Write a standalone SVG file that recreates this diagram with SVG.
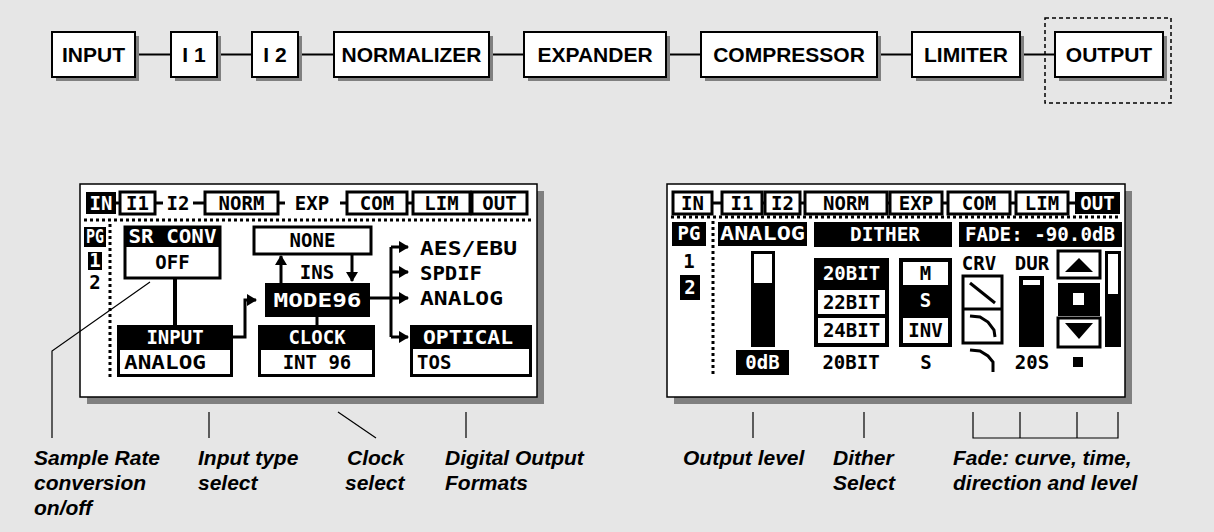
<svg xmlns="http://www.w3.org/2000/svg" width="1214" height="532" viewBox="0 0 1214 532">
<defs>
<style>
.bg{fill:#e6e6e6}
.sh{fill:#808080}
.box{fill:#fff;stroke:#000;stroke-width:2}
.ct{font-family:"Liberation Sans",Arial,sans-serif;font-weight:bold;font-size:21px;text-anchor:middle;fill:#000}
.conn{stroke:#000;stroke-width:2;fill:none}
.lcd{fill:#fff;stroke:#000;stroke-width:1.5}
.px{font-family:"DejaVu Sans Mono","Liberation Mono",monospace;font-weight:bold;font-size:19px;fill:#000}
.c{text-anchor:middle}
.w{fill:#fff}
.k{fill:#000}
.ob{fill:#fff;stroke:#000;stroke-width:3}
.ln{stroke:#000;stroke-width:3;fill:none}
.dot{stroke:#000;stroke-width:3;stroke-dasharray:3 3;fill:none}
.lbl{font-family:"Liberation Sans",Arial,sans-serif;font-weight:bold;font-style:italic;font-size:21px;fill:#000}
.ll{stroke:#000;stroke-width:1.2;fill:none}
</style>
<marker id="ah" markerUnits="userSpaceOnUse" markerWidth="10" markerHeight="12" refX="9" refY="6" orient="auto">
<path d="M0,0 L10,6 L0,12 z" fill="#000"/>
</marker>
</defs>
<rect class="bg" x="0" y="0" width="1214" height="532"/>

<g id="connectors">
<path class="conn" d="M135,54.5H171 M217,54.5H252 M298,54.5H334 M489,54.5H524 M666,54.5H701 M877,54.5H912 M1020,54.5H1055"/>
<rect x="1045" y="18" width="126" height="85" fill="none" stroke="#000" stroke-width="1.5" stroke-dasharray="4 3"/>
</g>

<g id="n-input"><rect class="sh" x="56" y="36" width="83" height="45"/><rect class="box" x="52" y="32" width="83" height="45"/><text class="ct" x="93.5" y="62">INPUT</text></g>
<g id="n-i1"><rect class="sh" x="175" y="36" width="46" height="45"/><rect class="box" x="171" y="32" width="46" height="45"/><text class="ct" x="194" y="62">I 1</text></g>
<g id="n-i2"><rect class="sh" x="256" y="36" width="46" height="45"/><rect class="box" x="252" y="32" width="46" height="45"/><text class="ct" x="275" y="62">I 2</text></g>
<g id="n-normalizer"><rect class="sh" x="338" y="36" width="155" height="45"/><rect class="box" x="334" y="32" width="155" height="45"/><text class="ct" x="411.5" y="62">NORMALIZER</text></g>
<g id="n-expander"><rect class="sh" x="528" y="36" width="142" height="45"/><rect class="box" x="524" y="32" width="142" height="45"/><text class="ct" x="595" y="62">EXPANDER</text></g>
<g id="n-compressor"><rect class="sh" x="705" y="36" width="176" height="45"/><rect class="box" x="701" y="32" width="176" height="45"/><text class="ct" x="789" y="62">COMPRESSOR</text></g>
<g id="n-limiter"><rect class="sh" x="916" y="36" width="108" height="45"/><rect class="box" x="912" y="32" width="108" height="45"/><text class="ct" x="966" y="62">LIMITER</text></g>
<g id="n-output"><rect class="sh" x="1059" y="36" width="108" height="45"/><rect class="box" x="1055" y="32" width="108" height="45"/><text class="ct" x="1109" y="62">OUTPUT</text></g>

<g id="lcd-left">
<rect class="sh" x="87" y="191" width="457" height="213"/>
<rect class="lcd" x="80" y="184" width="457" height="213"/>
<path class="ln" d="M116,203H120 M155,203H163 M193,203H205 M278,203H285 M340,203H347 M407,203H413 M470,203H472"/>
<rect class="k" x="86" y="192" width="30" height="22"/><text class="px c w" x="101" y="210">IN</text>
<rect class="ob" x="120" y="192" width="35" height="22"/><text class="px c" x="137.5" y="210">I1</text>
<text class="px c" x="178" y="210">I2</text>
<rect class="ob" x="205" y="192" width="73" height="22"/><text class="px c" x="241.5" y="210">NORM</text>
<text class="px c" x="312" y="210">EXP</text>
<rect class="ob" x="347" y="192" width="60" height="22"/><text class="px c" x="377" y="210">COM</text>
<rect class="ob" x="413" y="192" width="57" height="22"/><text class="px c" x="441.5" y="210">LIM</text>
<rect class="ob" x="472" y="192" width="55" height="22"/><text class="px c" x="499.5" y="210">OUT</text>
<path class="dot" d="M84,220H533 M110,224V378"/>
<rect class="k" x="84" y="227" width="22" height="20"/><text class="px c w" x="95" y="243" textLength="18" lengthAdjust="spacingAndGlyphs">PG</text>
<rect class="k" x="88" y="252" width="14" height="18"/><text class="px c w" x="95" y="267">1</text>
<text class="px c" x="95" y="289">2</text>
<rect class="ob" x="125" y="227" width="95" height="51"/><rect class="k" x="125" y="227" width="95" height="20"/>
<text class="px c w" x="172.5" y="243" textLength="88" lengthAdjust="spacingAndGlyphs">SR CONV</text>
<text class="px c" x="172.5" y="269">OFF</text>
<path d="M175,278V325" stroke="#000" stroke-width="4"/>
<rect class="k" x="117" y="325" width="116" height="52"/><rect class="w" x="120" y="350" width="110" height="24"/>
<text class="px c w" x="175" y="344">INPUT</text><text class="px" x="124" y="369" textLength="82" lengthAdjust="spacingAndGlyphs">ANALOG</text>
<path class="ln" d="M233,337H245V300H256" marker-end="url(#ah)"/>
<rect class="ob" x="254" y="227" width="117" height="27"/><text class="px c" x="312.5" y="247">NONE</text>
<path class="ln" d="M281,283V256" marker-end="url(#ah)"/>
<path class="ln" d="M352,254V281" marker-end="url(#ah)"/>
<text class="px c" x="317" y="279">INS</text>
<rect class="k" x="265" y="283" width="105" height="34"/><text class="px c w" x="317.5" y="307" textLength="88" lengthAdjust="spacingAndGlyphs">MODE96</text>
<path class="ln" d="M317,317V325"/>
<rect class="k" x="258" y="325" width="117" height="52"/><rect class="w" x="261" y="350" width="111" height="24"/>
<text class="px c w" x="317" y="344">CLOCK</text><text class="px c" x="317" y="369">INT 96</text>
<path class="ln" d="M370,298H391 M391,247V337"/>
<path class="ln" d="M391,247H408" marker-end="url(#ah)"/>
<path class="ln" d="M391,272H408" marker-end="url(#ah)"/>
<path class="ln" d="M391,298H408" marker-end="url(#ah)"/>
<path class="ln" d="M391,337H408" marker-end="url(#ah)"/>
<text class="px" x="420" y="255" textLength="97" lengthAdjust="spacingAndGlyphs">AES/EBU</text>
<text class="px" x="420" y="280" textLength="62" lengthAdjust="spacingAndGlyphs">SPDIF</text>
<text class="px" x="420" y="305" textLength="83" lengthAdjust="spacingAndGlyphs">ANALOG</text>
<rect class="k" x="410" y="325" width="122" height="52"/><rect class="w" x="413" y="349" width="116" height="25"/>
<text class="px c w" x="468" y="344" textLength="90" lengthAdjust="spacingAndGlyphs">OPTICAL</text><text class="px" x="417" y="369">TOS</text>
</g>

<g id="lcd-right">
<rect class="sh" x="674" y="191" width="458" height="213"/>
<rect class="lcd" x="667" y="184" width="458" height="213"/>
<path class="ln" d="M712,203H722 M762,203H765 M800,203H805 M887,203H890 M942,203H948 M1010,203H1016 M1068,203H1075"/>
<rect class="ob" x="673" y="192" width="39" height="22"/><text class="px c" x="692.5" y="210">IN</text>
<rect class="ob" x="722" y="192" width="40" height="22"/><text class="px c" x="742" y="210">I1</text>
<rect class="ob" x="765" y="192" width="35" height="22"/><text class="px c" x="782.5" y="210">I2</text>
<rect class="ob" x="805" y="192" width="82" height="22"/><text class="px c" x="846" y="210">NORM</text>
<rect class="ob" x="890" y="192" width="52" height="22"/><text class="px c" x="916" y="210">EXP</text>
<rect class="ob" x="948" y="192" width="62" height="22"/><text class="px c" x="979" y="210">COM</text>
<rect class="ob" x="1016" y="192" width="52" height="22"/><text class="px c" x="1042" y="210">LIM</text>
<rect class="k" x="1075" y="192" width="45" height="22"/><text class="px c w" x="1097.5" y="210">OUT</text>
<path class="dot" d="M671,217H1121 M713,221V376"/>
<rect class="k" x="672" y="222" width="34" height="24"/><text class="px c w" x="689" y="240">PG</text>
<text class="px c" x="689" y="268">1</text>
<rect class="k" x="680" y="275" width="20" height="25"/><text class="px c w" x="690" y="294">2</text>
<rect class="k" x="718" y="222" width="89" height="24"/><text class="px c w" x="762.5" y="240" textLength="85" lengthAdjust="spacingAndGlyphs">ANALOG</text>
<rect class="k" x="751" y="251" width="24" height="96"/><rect class="w" x="754" y="254" width="18" height="29"/>
<rect class="k" x="736" y="350" width="53" height="25"/><text class="px c w" x="762.5" y="369">0dB</text>
<rect class="k" x="814" y="222" width="138" height="25"/><text class="px c w" x="885" y="241" textLength="70" lengthAdjust="spacingAndGlyphs">DITHER</text>
<rect class="k" x="814" y="258" width="75" height="89"/>
<text class="px c w" x="851.5" y="280">20BIT</text>
<rect class="w" x="818" y="290" width="67" height="24"/><text class="px c" x="851.5" y="309">22BIT</text>
<rect class="w" x="818" y="318" width="67" height="25"/><text class="px c" x="851.5" y="337">24BIT</text>
<text class="px c" x="851" y="369">20BIT</text>
<rect class="k" x="899" y="258" width="53" height="89"/>
<rect class="w" x="903" y="262" width="45" height="23"/><text class="px c" x="925.5" y="280">M</text>
<text class="px c w" x="925.5" y="307">S</text>
<rect class="w" x="903" y="318" width="45" height="25"/><text class="px c" x="925.5" y="337">INV</text>
<text class="px c" x="926" y="369">S</text>
<rect class="k" x="959" y="222" width="163" height="25"/><text class="px w" x="965" y="241" textLength="150" lengthAdjust="spacingAndGlyphs">FADE: -90.0dB</text>
<text class="px c" x="979" y="270">CRV</text><text class="px c" x="1032" y="270">DUR</text>
<rect class="ob" x="963" y="276" width="39" height="67"/><path class="ln" d="M963,309H1002"/>
<path class="ln" d="M970,283L995,303"/>
<path class="ln" d="M970,316L980,317L988,322L994,330L995,337"/>
<path class="ln" d="M970,350L980,351L988,356L993,362L993,372"/>
<rect class="k" x="1019" y="276" width="25" height="71"/><rect class="w" x="1023" y="280" width="17" height="5"/>
<text class="px c" x="1032" y="369">20S</text>
<rect class="ob" x="1058" y="251" width="42" height="27"/><polygon class="k" points="1065,272 1079,258 1093,272"/>
<rect class="k" x="1058" y="283" width="42" height="33"/><rect class="w" x="1073" y="293" width="11" height="12"/>
<rect class="ob" x="1058" y="318" width="42" height="29"/><polygon class="k" points="1065,323 1093,323 1079,339"/>
<rect class="k" x="1073" y="357" width="10" height="10"/>
<rect class="k" x="1105" y="251" width="16" height="96"/><rect class="w" x="1108" y="254" width="10" height="40"/>
</g>

<g id="labels">
<path class="ll" d="M150,282L52,351V438 M209,412V438 M338,412L376,438 M466,412V438 M753,412V438 M864,412V438 M973,412V438H1118V412 M1020,412V438 M1077,412V438"/>
<text class="lbl" x="34" y="465">Sample Rate</text><text class="lbl" x="34" y="490">conversion</text><text class="lbl" x="34" y="515">on/off</text>
<text class="lbl" x="198" y="465">Input type</text><text class="lbl" x="198" y="490">select</text>
<text class="lbl" x="347" y="465">Clock</text><text class="lbl" x="345" y="490">select</text>
<text class="lbl" x="445" y="465">Digital Output</text><text class="lbl" x="445" y="490">Formats</text>
<text class="lbl" x="683" y="465">Output level</text>
<text class="lbl" x="833" y="465">Dither</text><text class="lbl" x="833" y="490">Select</text>
<text class="lbl" x="953" y="465">Fade: curve, time,</text><text class="lbl" x="953" y="490">direction and level</text>
</g>
</svg>
